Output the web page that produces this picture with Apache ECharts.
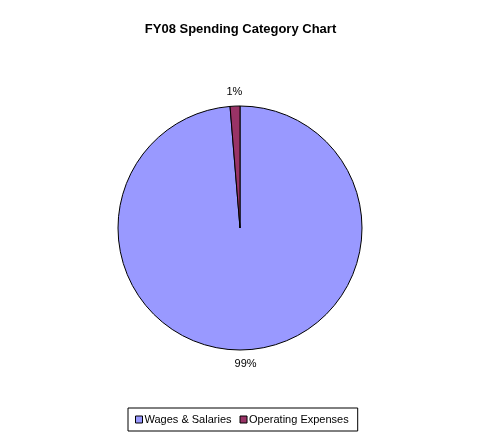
<!DOCTYPE html>
<html><head><meta charset="utf-8">
<script src="https://cdn.jsdelivr.net/npm/echarts@6/dist/echarts.min.js"></script>
<style>html,body{margin:0;padding:0;background:#fff}#c{width:481px;height:440px}</style>
</head><body><div id="c"></div>
<script>
const categories = ['Wages & Salaries', 'Operating Expenses'];
const values = [98.7, 1.3];
const labels = ['99%', '1%'];
const colors = ['#9999FF', '#993366'];

const chart = echarts.init(document.getElementById('c'), null, {renderer: 'canvas'});
chart.setOption({
  backgroundColor: '#fff',
  animation: false,
  title: {
    text: 'FY08 Spending Category Chart',
    left: 'center', top: 18,
    textStyle: {fontFamily: 'Liberation Sans, Arial', fontSize: 13, fontWeight: 'bold', color: '#000'}
  },
  legend: {
    data: categories,
    bottom: 9, left: 128,
    orient: 'horizontal',
    itemWidth: 7, itemHeight: 7, itemGap: 8,
    borderColor: '#000', borderWidth: 1, borderRadius: 0,
    padding: [6, 9, 6, 7],
    icon: 'rect',
    itemStyle: {borderColor: '#000', borderWidth: 1},
    textStyle: {fontFamily: 'Liberation Sans, Arial', fontSize: 11, color: '#000', padding: [0, 0, 0, -3]}
  },
  series: [{
    type: 'pie',
    center: [240, 228],
    radius: 122,
    startAngle: 90,
    clockwise: true,
    data: categories.map((n, i) => ({name: n, value: values[i], itemStyle: {color: colors[i]}})),
    itemStyle: {borderColor: '#000', borderWidth: 1},
    label: {show: false},
    labelLine: {show: false},
    emphasis: {disabled: true}
  }, {
    type: 'pie',
    center: [240, 228],
    radius: [131, 135],
    startAngle: 90,
    clockwise: true,
    silent: true,
    legendHoverLink: false,
    data: categories.map((n, i) => ({name: n, value: values[i]})),
    itemStyle: {color: 'rgba(0,0,0,0)', borderWidth: 0},
    label: {
      show: true, position: 'inside',
      formatter: p => labels[p.dataIndex],
      fontFamily: 'Liberation Sans, Arial', fontSize: 11, color: '#000'
    },
    labelLine: {show: false},
    emphasis: {disabled: true},
    tooltip: {show: false}
  }]
});
</script></body></html>
